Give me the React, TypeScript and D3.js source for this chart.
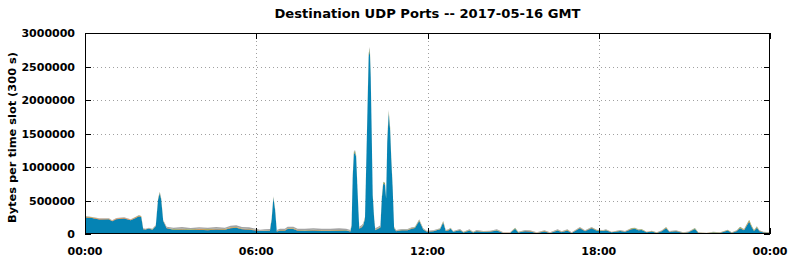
import React from 'react';
import * as d3 from 'd3';

// time of day in hours
const hours = [
  0, 0.2, 0.5, 0.84, 0.95, 1.1, 1.37, 1.6, 1.78, 1.89, 1.97, 2.04, 2.12, 2.24, 2.36, 2.48, 2.56, 2.62, 2.67, 2.74, 2.86,
  3.1, 3.4, 3.7, 4.0, 4.3, 4.6, 4.9, 5.1, 5.3, 5.5, 5.75, 5.98, 6.13, 6.3, 6.48, 6.54, 6.6, 6.66, 6.72, 6.83,
  7.0, 7.1, 7.3, 7.45, 7.7, 8.0, 8.3, 8.6, 8.9, 9.15, 9.3, 9.34, 9.38, 9.42, 9.46, 9.5, 9.54, 9.58, 9.61, 9.7,
  9.75, 9.81, 9.85, 9.89, 9.94, 9.98, 10.01, 10.05, 10.08, 10.13, 10.17, 10.27, 10.35, 10.4, 10.45, 10.51, 10.55, 10.59, 10.64, 10.69,
  10.73, 10.78, 10.83, 10.9, 11.1, 11.3, 11.45, 11.56, 11.71, 11.85, 11.97, 12.2, 12.44, 12.55, 12.64, 12.73, 12.81, 12.9, 13.14, 13.26,
  13.47, 13.6, 13.72, 13.96, 14.19, 14.43, 14.66, 14.89, 15.07, 15.18, 15.42, 15.59, 15.83, 16.1, 16.29, 16.56, 16.7, 16.9, 17.05, 17.34,
  17.52, 17.75, 17.93, 18.16, 18.25, 18.45, 18.75, 18.92, 19.15, 19.27, 19.39, 19.5, 19.68, 19.86, 20.03, 20.21, 20.36, 20.47, 20.71, 20.96,
  21.14, 21.37, 21.49, 21.78, 22.01, 22.25, 22.52, 22.66, 22.83, 22.95, 23.09, 23.27, 23.36, 23.44, 23.54, 23.63, 23.77, 24,
];

// bytes per slot, in thousands
const blueK = [
  248, 241, 218, 219, 190, 222, 233, 205, 240, 265, 253, 71, 66, 81, 64, 118, 510, 610, 510, 193, 86,
  62, 66, 60, 65, 56, 68, 63, 86, 92, 70, 65, 54, 43, 45, 50, 214, 540, 360, 38, 50,
  50, 75, 74, 50, 47, 54, 46, 45, 50, 51, 37, 125, 850, 1190, 1215, 1145, 730, 338, 80, 101,
  129, 230, 968, 1712, 2650, 2735, 2355, 1365, 580, 232, 56, 77, 98, 528, 750, 740, 528, 1365, 1800, 1560,
  1117, 680, 86, 42, 56, 56, 79, 89, 195, 68, 35, 40, 70, 172, 45, 54, 77, 32, 57, 22,
  52, 22, 42, 30, 35, 52, 15, 15, 78, 22, 42, 39, 15, 39, 15, 51, 27, 53, 15, 86,
  42, 86, 50, 45, 55, 26, 45, 33, 72, 77, 55, 60, 26, 38, 16, 42, 86, 33, 42, 16,
  26, 73, 16, 11, 23, 16, 51, 16, 42, 86, 55, 182, 100, 45, 92, 42, 24, 16,
];
const redK = [
  1, 1, 1, 1, 1, 1, 1, 1, 1, 1, 1, 1, 1, 1, 1, 1, 1, 1, 1, 1, 2,
  2, 3, 1, 2, 4, 2, 2, 3, 2, 3, 2, 1, 1, 1, 1, 1, 1, 1, 1, 2,
  2, 2, 2, 2, 1, 2, 4, 2, 2, 1, 1, 1, 2, 3, 3, 3, 2, 2, 2, 2,
  2, 2, 2, 3, 3, 3, 3, 3, 2, 2, 2, 2, 2, 2, 2, 2, 2, 3, 3, 3,
  3, 2, 2, 1, 1, 1, 2, 2, 2, 1, 1, 1, 1, 2, 1, 1, 1, 1, 1, 1,
  1, 1, 1, 1, 1, 1, 1, 1, 2, 1, 1, 1, 1, 1, 1, 1, 1, 1, 1, 2,
  1, 2, 1, 1, 1, 1, 1, 1, 2, 2, 1, 1, 1, 1, 1, 1, 2, 1, 1, 1,
  1, 2, 1, 1, 1, 1, 1, 1, 1, 3, 2, 4, 3, 1, 3, 1, 1, 1,
];
const orangeK = [
  10, 8, 8, 6, 6, 7, 8, 6, 8, 8, 7, 3, 3, 3, 3, 3, 3, 3, 3, 3, 4,
  5, 7, 4, 6, 9, 5, 5, 7, 5, 6, 5, 4, 3, 3, 3, 3, 3, 3, 3, 4,
  4, 5, 5, 4, 6, 4, 4, 7, 4, 4, 3, 3, 3, 5, 5, 5, 4, 3, 4, 4,
  4, 4, 5, 6, 8, 9, 8, 6, 5, 4, 3, 4, 4, 5, 5, 5, 5, 6, 7, 6,
  5, 4, 3, 3, 3, 3, 3, 3, 4, 3, 2, 2, 3, 4, 2, 3, 4, 2, 3, 2,
  3, 2, 3, 2, 2, 3, 2, 2, 3, 2, 3, 3, 2, 3, 2, 4, 2, 4, 2, 4,
  2, 4, 3, 3, 3, 2, 3, 2, 4, 4, 3, 4, 2, 2, 2, 3, 4, 2, 3, 2,
  2, 4, 2, 2, 2, 2, 4, 2, 3, 6, 5, 10, 7, 4, 7, 3, 2, 2,
];
const greenK = [
  3, 2, 2, 2, 2, 3, 2, 2, 3, 3, 3, 2, 2, 2, 2, 3, 8, 8, 8, 3, 3,
  4, 3, 5, 4, 4, 5, 3, 5, 5, 4, 4, 3, 3, 3, 3, 6, 8, 7, 3, 3,
  3, 4, 4, 3, 3, 4, 3, 3, 4, 3, 3, 6, 12, 15, 15, 14, 10, 8, 4, 5,
  5, 8, 15, 18, 20, 20, 18, 15, 10, 8, 4, 5, 6, 12, 14, 14, 12, 16, 18, 16,
  16, 12, 5, 4, 4, 4, 5, 5, 8, 4, 3, 3, 4, 7, 4, 4, 5, 3, 4, 3,
  4, 3, 4, 3, 3, 5, 2, 2, 6, 3, 4, 4, 2, 4, 2, 5, 3, 5, 2, 6,
  3, 6, 4, 4, 5, 2, 4, 3, 6, 6, 5, 5, 2, 3, 2, 4, 7, 3, 4, 2,
  2, 6, 2, 2, 3, 2, 5, 2, 4, 9, 6, 12, 8, 5, 8, 4, 3, 2,
];
const grayK = [
  6, 6, 5, 6, 5, 6, 6, 5, 6, 6, 6, 8, 8, 8, 8, 8, 11, 10, 11, 9, 15,
  22, 26, 20, 23, 22, 25, 22, 24, 26, 22, 24, 18, 15, 18, 18, 10, 13, 10, 15, 21,
  21, 24, 25, 21, 23, 21, 23, 23, 25, 21, 16, 15, 13, 17, 16, 13, 10, 7, 20, 22,
  20, 14, 10, 11, 19, 23, 16, 11, 10, 12, 20, 22, 20, 10, 9, 9, 10, 10, 22, 15,
  9, 8, 14, 10, 11, 11, 11, 11, 11, 9, 9, 9, 7, 9, 8, 8, 8, 7, 10, 7,
  10, 7, 10, 9, 9, 9, 5, 5, 6, 7, 10, 8, 5, 8, 5, 9, 7, 7, 5, 7,
  7, 7, 7, 7, 6, 4, 7, 6, 6, 6, 6, 5, 4, 6, 4, 5, 6, 6, 5, 4,
  5, 5, 4, 4, 6, 4, 4, 4, 5, 6, 7, 6, 7, 5, 5, 5, 5, 4,
];

const seriesKeys = ['blue', 'red', 'orange', 'green', 'gray'];
const seriesColors = ['#0583b4', '#b0381a', '#e8760a', '#6aa032', '#a4a4a4'];
const yTicks = [0, 500000, 1000000, 1500000, 2000000, 2500000, 3000000];
const xTicks = [0, 6, 12, 18, 24];
const xTickLabels = ['00:00', '06:00', '12:00', '18:00', '00:00'];
const title = 'Destination UDP Ports -- 2017-05-16 GMT';
const yTitle = 'Bytes per time slot (300 s)';

export default function App() {
  const W = 792, H = 259;
  const L = 85, R = 770, T = 33, B = 234;
  const x = d3.scaleLinear().domain([0, 24]).range([L, R]);
  const y = d3.scaleLinear().domain([0, 3000000]).range([B, T]);
  const src = [blueK, redK, orangeK, greenK, grayK];
  const n = Math.min(hours.length, ...src.map(a => a.length));
  const table = d3.range(n).map(i => {
    const row: any = { h: hours[i] };
    seriesKeys.forEach((k, j) => { row[k] = src[j][i] * 1000; });
    return row;
  });
  const stacked = d3.stack<any>().keys(seriesKeys)(table);
  const area = d3.area<any>()
    .x(d => x(d.data.h))
    .y0(d => y(d[0]))
    .y1(d => y(d[1]))
    .curve(d3.curveLinear);
  const font = "'DejaVu Sans', sans-serif";
  const tl = 6;
  return (
    <svg width={W} height={H} style={{ position: 'absolute', left: 0, top: 0, background: '#fff' }}>
      <defs>
        <clipPath id="plot"><rect x={L} y={T} width={R - L} height={B - T} /></clipPath>
      </defs>
      <rect x={0} y={0} width={W} height={H} fill="#fff" />
      {/* grid */}
      <g stroke="#a0a0a0" strokeWidth={1} strokeDasharray="1,3" shapeRendering="crispEdges">
        {yTicks.slice(1, -1).map(v => (
          <line key={'gy' + v} x1={L} x2={R} y1={Math.round(y(v)) + 0.5} y2={Math.round(y(v)) + 0.5} />
        ))}
        {xTicks.slice(1, -1).map(v => (
          <line key={'gx' + v} x1={Math.round(x(v)) + 0.5} x2={Math.round(x(v)) + 0.5} y1={T} y2={B} />
        ))}
      </g>
      {/* areas */}
      <g clipPath="url(#plot)">
        {stacked.map((s, i) => (
          <path key={s.key} d={area(s) || ''} fill={seriesColors[i]} stroke="none" />
        ))}
      </g>
      {/* frame and ticks */}
      <g stroke="#000" strokeWidth={1} shapeRendering="crispEdges" fill="none">
        <rect x={L + 0.5} y={T + 0.5} width={R - L - 1} height={B - T - 1} />
        {yTicks.map(v => {
          const yy = Math.round(y(v)) + 0.5;
          return (
            <g key={'ty' + v}>
              <line x1={L} x2={L + tl} y1={yy} y2={yy} />
              <line x1={R - tl} x2={R} y1={yy} y2={yy} />
            </g>
          );
        })}
        {xTicks.map(v => {
          const xx = Math.round(x(v)) + 0.5;
          return (
            <g key={'tx' + v}>
              <line x1={xx} x2={xx} y1={B} y2={B - tl} />
              <line x1={xx} x2={xx} y1={T} y2={T + tl} />
            </g>
          );
        })}
      </g>
      {/* labels */}
      <g fontFamily={font} fontWeight="bold" fontSize={11} fill="#000">
        {yTicks.map(v => (
          <text key={'ly' + v} x={L - 10} y={y(v) + 4} textAnchor="end">{String(v)}</text>
        ))}
        {xTicks.map((v, i) => (
          <text key={'lx' + i} x={x(v)} y={255} textAnchor="middle">{xTickLabels[i]}</text>
        ))}
        <text x={(L + R) / 2} y={18} textAnchor="middle" fontSize={13} textLength={306} lengthAdjust="spacingAndGlyphs">{title}</text>
        <text transform={`translate(15.5,137.5) rotate(-90)`} textAnchor="middle" fontSize={11} textLength={171} lengthAdjust="spacingAndGlyphs">{yTitle}</text>
      </g>
    </svg>
  );
}
